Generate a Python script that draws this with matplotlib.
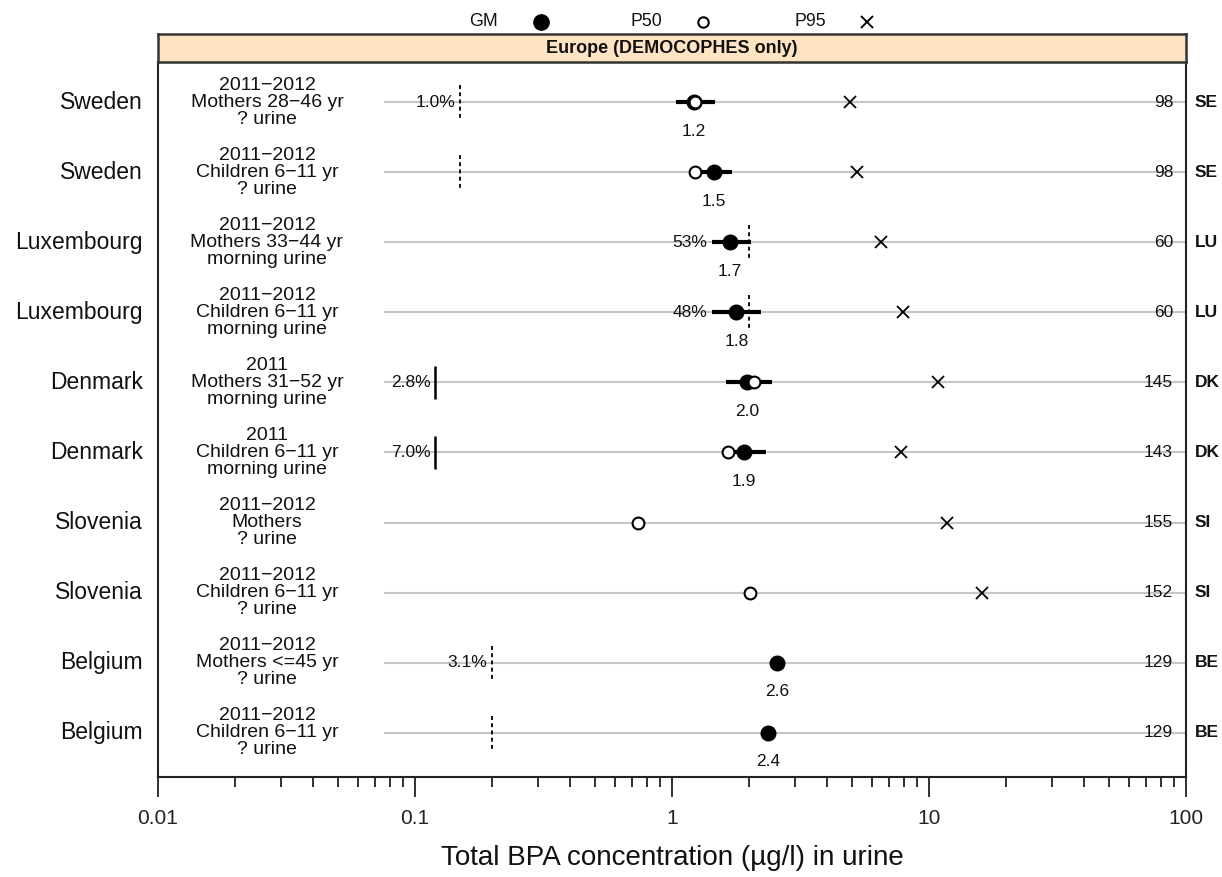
import numpy as np
import matplotlib
matplotlib.use("Agg")
import matplotlib.pyplot as plt
from matplotlib.transforms import offset_copy
from matplotlib.ticker import FixedLocator, LogLocator, NullFormatter

plt.rcParams['font.family'] = ['Liberation Sans', 'DejaVu Sans']

# --- data (top row first) ---
countries = ["Sweden", "Sweden", "Luxembourg", "Luxembourg", "Denmark",
             "Denmark", "Slovenia", "Slovenia", "Belgium", "Belgium"]
periods = ["2011\u22122012"] * 4 + ["2011", "2011"] + ["2011\u22122012"] * 4
groups = ["Mothers 28\u221246 yr", "Children 6\u221211 yr", "Mothers 33\u221244 yr",
          "Children 6\u221211 yr", "Mothers 31\u221252 yr", "Children 6\u221211 yr",
          "Mothers", "Children 6\u221211 yr", "Mothers <=45 yr", "Children 6\u221211 yr"]
samples = ["? urine", "? urine", "morning urine", "morning urine", "morning urine",
           "morning urine", "? urine", "? urine", "? urine", "? urine"]
nan = np.nan
gm = [1.22, 1.46, 1.68, 1.78, 1.96, 1.91, nan, nan, 2.57, 2.36]
gm_lo = [1.04, 1.30, 1.43, 1.43, 1.62, 1.62, nan, nan, nan, nan]
gm_hi = [1.47, 1.71, 2.03, 2.22, 2.45, 2.32, nan, nan, nan, nan]
p50 = [1.23, 1.23, nan, nan, 2.08, 1.65, 0.74, 2.01, nan, nan]
p95 = [4.93, 5.25, 6.5, 7.9, 10.8, 7.8, 11.7, 16.1, nan, nan]
lod = [0.15, 0.15, 2.0, 2.0, 0.12, 0.12, nan, nan, 0.2, 0.2]
lod_dashed = [True, True, True, True, False, False, False, False, True, True]
pct_below = ["1.0%", "", "53%", "48%", "2.8%", "7.0%", "", "", "3.1%", ""]
n_obs = [98, 98, 60, 60, 145, 143, 155, 152, 129, 129]
codes = ["SE", "SE", "LU", "LU", "DK", "DK", "SI", "SI", "BE", "BE"]
x_ticks = [0.01, 0.1, 1, 10, 100]
x_ticklabels = ["0.01", "0.1", "1", "10", "100"]

W, H = 1222, 877
fig = plt.figure(figsize=(W / 100, H / 100), dpi=100)


def fx(px):
    return px / W


def fy(py):
    return 1 - py / H


ax = fig.add_axes([fx(158), fy(777), fx(1186) - fx(158), fy(62) - fy(777)])
strip = fig.add_axes([fx(158), fy(62), fx(1186) - fx(158), fy(34) - fy(62)])

rows = np.arange(len(countries))
ax.set_xscale('log')
ax.set_xlim(0.01, 100)
ax.set_ylim(9.63, -0.571)

ytr = ax.get_yaxis_transform()
txt_col = '#111111'

for i, r in enumerate(rows):
    # grey guide line
    ax.plot([0.2208, 1.0], [r, r], transform=ytr, color='#c6c6c6', lw=1.5, zorder=1)
    # LOD marker
    if not np.isnan(lod[i]):
        if lod_dashed[i]:
            ax.vlines(lod[i], r - 0.24, r + 0.24, colors='k', lw=1.3,
                      linestyles=(0, (2.2, 1.8)), zorder=2)
        else:
            ax.vlines(lod[i], r - 0.24, r + 0.24, colors='k', lw=1.8, zorder=2)
    # % below LOD
    if pct_below[i]:
        xpos = lod[i] if np.isnan(gm_lo[i]) else min(lod[i], gm_lo[i])
        ax.text(xpos, r, pct_below[i], ha='right', va='center', fontsize=12.5,
                color=txt_col, zorder=2,
                transform=offset_copy(ax.transData, fig, x=-5, y=0, units='dots'))
    # confidence interval of GM
    if not np.isnan(gm_lo[i]):
        ax.hlines(r, gm_lo[i], gm_hi[i], colors='k', lw=3, zorder=3)
    # GM value label
    if not np.isnan(gm[i]):
        ax.text(gm[i], r, f"{gm[i]:.1f}", ha='center', va='center', fontsize=12.5,
                color=txt_col,
                transform=offset_copy(ax.transData, fig, x=0, y=-29, units='dots'))
    # left labels
    ax.text(-0.0146, r, countries[i], ha='right', va='center', fontsize=16.5,
            color=txt_col, transform=ytr, clip_on=False)
    ax.text(0.106, r, f"{periods[i]}\n{groups[i]}\n{samples[i]}", ha='center',
            va='center', fontsize=14, linespacing=1.0, color=txt_col, transform=ytr)
    # right labels
    ax.text(0.9874, r, str(n_obs[i]), ha='right', va='center', fontsize=12.5,
            color=txt_col, transform=ytr)
    ax.text(1.0088, r, codes[i], ha='left', va='center', fontsize=12.5,
            fontweight='bold', color=txt_col, transform=ytr, clip_on=False)

ax.plot(gm, rows, 'o', color='k', ms=10.5, zorder=4, ls='none')
ax.plot(p50, rows, 'o', mfc='white', mec='k', ms=8.5, mew=1.5, zorder=5, ls='none')
ax.plot(p95, rows, 'x', color='k', ms=8.5, mew=1.3, zorder=5, ls='none')

# axes styling
ax.xaxis.set_major_locator(FixedLocator(x_ticks))
ax.set_xticklabels(x_ticklabels)
ax.xaxis.set_minor_locator(LogLocator(base=10, subs=np.arange(2, 10)))
ax.xaxis.set_minor_formatter(NullFormatter())
ax.tick_params(axis='x', which='major', direction='out', length=14.4, width=1.3,
               labelsize=15, pad=9, colors='#222222')
ax.tick_params(axis='x', which='minor', direction='out', length=7.2, width=1.3,
               colors='#222222')
ax.tick_params(axis='y', left=False, labelleft=False)
for sp in ax.spines.values():
    sp.set_linewidth(1.5)
    sp.set_color('#222222')

fig.text(fx(672), fy(858), "Total BPA concentration (\u00b5g/l) in urine",
         ha='center', va='center', fontsize=20, color=txt_col)

# strip
strip.set_facecolor('#FFE4C4')
strip.set_xticks([])
strip.set_yticks([])
for sp in strip.spines.values():
    sp.set_linewidth(1.8)
    sp.set_color('#333333')
strip.text(0.5, 0.48, "Europe (DEMOCOPHES only)", ha='center', va='center',
           fontsize=13, fontweight='bold', color=txt_col, transform=strip.transAxes)

# key at top
key = fig.add_axes([0, 0, 1, 1], facecolor='none')
key.set_xlim(0, W)
key.set_ylim(H, 0)
key.axis('off')
key.text(484, 22, "GM", ha='center', va='center', fontsize=12.8, color=txt_col)
key.plot([541], [22], 'o', color='k', ms=11)
key.text(646, 22, "P50", ha='center', va='center', fontsize=12.8, color=txt_col)
key.plot([703], [22], 'o', mfc='white', mec='k', ms=7.5, mew=1.5)
key.text(810, 22, "P95", ha='center', va='center', fontsize=12.8, color=txt_col)
key.plot([867], [22], 'x', color='k', ms=9, mew=1.4)

fig.savefig("out.png", dpi=100)
